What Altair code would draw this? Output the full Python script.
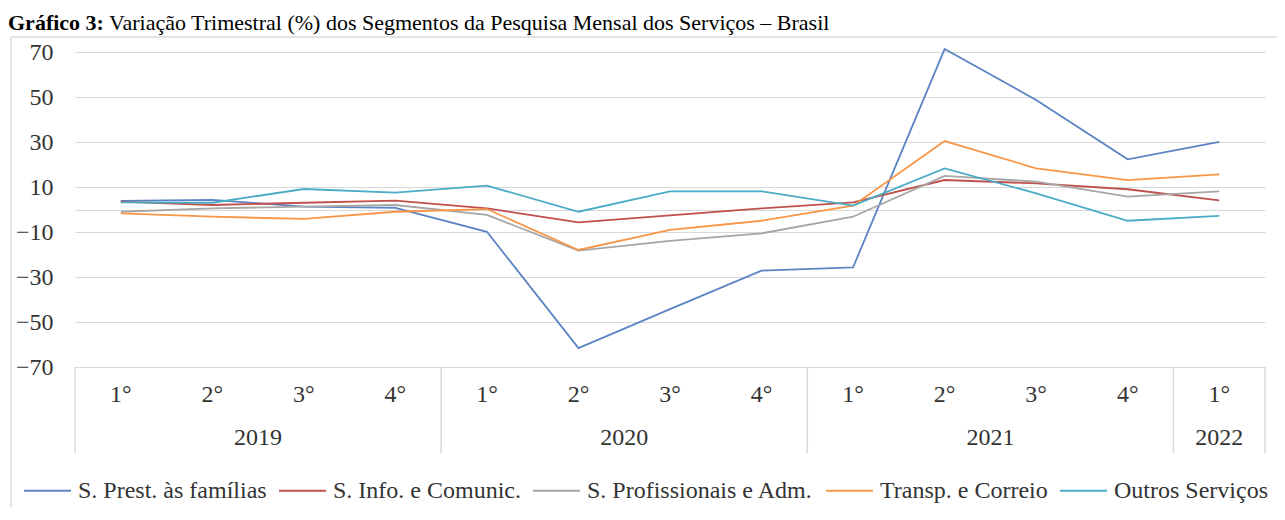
import altair as alt
import pandas as pd

# ---------------- data ----------------
quarters = ["1°", "2°", "3°", "4°", "1°", "2°", "3°", "4°", "1°", "2°", "3°", "4°", "1°"]
years = ["2019"] * 4 + ["2020"] * 4 + ["2021"] * 4 + ["2022"]

series_names = [
    "S. Prest. às famílias",
    "S. Info. e Comunic.",
    "S. Profissionais e Adm.",
    "Transp. e Correio",
    "Outros Serviços",
]
series_colors = ["#5B84C4", "#C0504D", "#A6A6A6", "#F79646", "#4BACC6"]

familias = [3.8, 4.3, 1.3, 0.7, -9.9, -61.6, -44.3, -27.2, -25.7, 71.3, 48.7, 22.3, 30.1]
info = [3.5, 2.0, 3.0, 3.9, 0.5, -5.7, -2.6, 0.5, 3.2, 13.1, 11.6, 9.0, 4.1]
profissionais = [-1.0, 0.5, 1.3, 2.0, -2.4, -18.3, -13.9, -10.6, -3.2, 14.9, 12.4, 5.7, 8.1]
transporte = [-1.7, -3.2, -4.2, -1.0, 0.2, -18.0, -9.1, -5.0, 1.7, 30.4, 18.3, 13.1, 15.6]
outros = [3.2, 3.0, 9.1, 7.5, 10.6, -1.0, 8.1, 8.1, 1.7, 18.3, 7.2, -5.0, -2.8]

y_ticks = [70, 50, 30, 10, 0, -10, -30, -50, -70]

title_bold = "Gráfico 3:"
title_rest = "Variação Trimestral (%) dos Segmentos da Pesquisa Mensal dos Serviços – Brasil"

# ---------------- tables ----------------
all_series = [familias, info, profissionais, transporte, outros]
rows = []
for name, vals in zip(series_names, all_series):
    for i, v in enumerate(vals):
        rows.append({"pos": i + 0.5, "value": v, "series": name})
df = pd.DataFrame(rows)

qdf = pd.DataFrame({"pos": [i + 0.5 for i in range(len(quarters))], "q": quarters, "year": years})
ydf = qdf.groupby("year", as_index=False)["pos"].mean()
bounds = [i for i in range(len(years)) if i == 0 or years[i] != years[i - 1]] + [len(years)]
bdf = pd.DataFrame({"b": bounds})

FONT = "Liberation Serif, Times New Roman, DejaVu Serif, serif"
TXT = "#333333"
GRID = "#D9D9D9"

xscale = alt.Scale(domain=[0, len(quarters)], nice=False, zero=False)
yscale = alt.Scale(domain=[-70, 70], nice=False, zero=False)

border_top = alt.Chart(pd.DataFrame({"a": [0]})).mark_rule(color=GRID, strokeWidth=1.5).encode(
    x=alt.value(-64), x2=alt.value(1300), y=alt.value(-15)
)
border_left = alt.Chart(pd.DataFrame({"a": [0]})).mark_rule(color=GRID, strokeWidth=1.5).encode(
    x=alt.value(-64), y=alt.value(-15), y2=alt.value(700)
)

t1 = alt.Chart(pd.DataFrame({"t": [title_bold]})).mark_text(
    font=FONT, fontSize=22, fontWeight="bold", align="left", baseline="alphabetic", color="#000000"
).encode(x=alt.value(-67), y=alt.value(-22), text="t:N")
t2 = alt.Chart(pd.DataFrame({"t": [title_rest]})).mark_text(
    font=FONT, fontSize=22, align="left", baseline="alphabetic", color="#000000"
).encode(x=alt.value(34), y=alt.value(-22), text="t:N")

lines = alt.Chart(df).mark_line(strokeWidth=1.8).encode(
    x=alt.X("pos:Q", scale=xscale, axis=None),
    y=alt.Y(
        "value:Q",
        scale=yscale,
        axis=alt.Axis(
            values=y_ticks,
            labelExpr="datum.value == 0 ? '' : datum.label",
            grid=True,
            gridColor=GRID,
            gridWidth=1.2,
            domain=False,
            ticks=False,
            labelFont=FONT,
            labelFontSize=24,
            labelColor=TXT,
            labelPadding=22,
            title=None,
        ),
    ),
    color=alt.Color(
        "series:N",
        scale=alt.Scale(domain=series_names, range=series_colors),
        legend=alt.Legend(
            orient="none",
            legendX=-52,
            legendY=414,
            direction="horizontal",
            symbolType="stroke",
            symbolSize=2209,
            symbolStrokeWidth=2,
            labelFont=FONT,
            labelFontSize=24,
            labelColor=TXT,
            labelLimit=400,
            labelOffset=6,
            columnPadding=8,
            padding=0,
            title=None,
        ),
    ),
)

seps = alt.Chart(bdf).mark_rule(color=GRID, strokeWidth=1.5).encode(
    x=alt.X("b:Q", scale=xscale, axis=None), y=alt.value(315), y2=alt.value(401)
)

qlab = alt.Chart(qdf).mark_text(font=FONT, fontSize=24, color=TXT, baseline="middle").encode(
    x=alt.X("pos:Q", scale=xscale, axis=None), y=alt.value(343), text="q:N"
)
ylab = alt.Chart(ydf).mark_text(font=FONT, fontSize=24, color=TXT, baseline="middle").encode(
    x=alt.X("pos:Q", scale=xscale, axis=None), y=alt.value(386), text="year:N"
)

chart = (
    alt.layer(border_top, border_left, t1, t2, seps, qlab, ylab, lines)
    .properties(
        width=1190,
        height=315,
        autosize=alt.AutoSizeParams(type="none"),
        padding={"left": 67, "top": 44, "right": 12, "bottom": 140},
    )
    .configure_view(stroke=None)
)

chart.save("out.html", embed_options={"renderer": "svg", "actions": False})
